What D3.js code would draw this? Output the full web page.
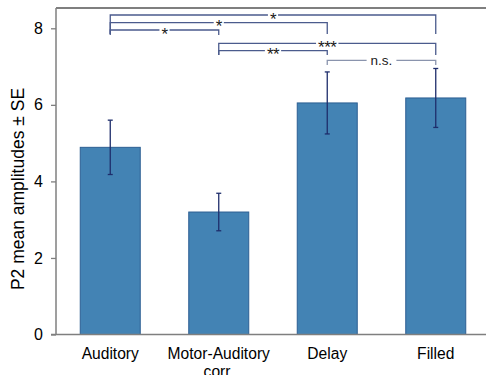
<!DOCTYPE html>
<html>
<head>
<meta charset="utf-8">
<script src="https://cdn.jsdelivr.net/npm/d3@7"></script>
<style>
  html, body { margin: 0; padding: 0; background: #fff; }
  svg { display: block; font-family: "Liberation Sans", Arial, sans-serif; }
</style>
</head>
<body>
<svg id="chart" width="486" height="375"></svg>
<script>
// Conditions and their mean P2 amplitudes with standard errors
const categories = ["Auditory", "Motor-Auditory corr.", "Delay", "Filled"];
const labelLines = [["Auditory"], ["Motor-Auditory", "corr."], ["Delay"], ["Filled"]];
const means = [4.89, 3.20, 6.05, 6.18];
const errors = [0.71, 0.49, 0.81, 0.77];
const yTicks = [0, 2, 4, 6, 8];

// Pairwise comparisons: [from index, to index, significance]
const compFrom = [0, 0, 0, 1, 1, 2];
const compTo = [3, 2, 1, 3, 2, 3];
const compSig = ["*", "*", "*", "***", "**", "n.s."];

const svg = d3.select("#chart");
const W = 486, H = 375;
const margin = { top: 8, right: -4, bottom: 40.5, left: 56 };
const plotRight = W - margin.right;
const plotBottom = H - margin.bottom;

const x = d3.scaleBand()
  .domain(categories)
  .range([margin.left, plotRight])
  .paddingInner(0.447)
  .paddingOuter(0.2235);

const y = d3.scaleLinear()
  .domain([0, 8])
  .range([plotBottom, 28.3]);

const axisGray = "#7f7f7f";
const barFill = "#4383b4";
const barStroke = "#2d5f93";
const errColor = "#1e2d6b";
const bracketColor = "#4b5b8d";

// Frame: top rule
svg.append("line")
  .attr("x1", margin.left).attr("x2", W)
  .attr("y1", margin.top).attr("y2", margin.top)
  .attr("stroke", axisGray).attr("stroke-width", 2);

// Y axis
const yAxis = d3.axisLeft(y).tickValues(yTicks).tickSize(5).tickPadding(8).tickFormat(d3.format("d"));
const gy = svg.append("g").attr("transform", `translate(${margin.left},0)`).call(yAxis);
gy.select(".domain").attr("stroke", axisGray).attr("stroke-width", 1.5)
  .attr("d", `M0,${margin.top}V${plotBottom}`);
gy.selectAll(".tick line").attr("stroke", axisGray).attr("stroke-width", 1.3);
gy.selectAll(".tick text").attr("fill", "#000").style("font-size", "16px")
  .style("font-family", "'Liberation Sans', Arial, sans-serif");

// Y title
svg.append("text")
  .attr("transform", `translate(24,${189}) rotate(-90)`)
  .attr("text-anchor", "middle")
  .style("font-size", "17.5px")
  .attr("fill", "#000")
  .text("P2 mean amplitudes \u00b1 SE");

// Bars
svg.append("g").selectAll("rect")
  .data(categories)
  .join("rect")
  .attr("x", d => x(d))
  .attr("width", x.bandwidth())
  .attr("y", (d, i) => y(means[i]))
  .attr("height", (d, i) => y(0) - y(means[i]))
  .attr("fill", barFill)
  .attr("stroke", barStroke)
  .attr("stroke-width", 1);

// Baseline (x axis)
svg.append("line")
  .attr("x1", margin.left - 5).attr("x2", W)
  .attr("y1", plotBottom).attr("y2", plotBottom)
  .attr("stroke", axisGray).attr("stroke-width", 1.5);

// Error bars
const cx = i => x(categories[i]) + x.bandwidth() / 2;
const eg = svg.append("g").attr("stroke", errColor).attr("stroke-width", 1.3);
means.forEach((m, i) => {
  const top = y(m + errors[i]), bot = y(m - errors[i]);
  eg.append("line").attr("x1", cx(i)).attr("x2", cx(i)).attr("y1", top).attr("y2", bot);
  eg.append("line").attr("x1", cx(i) - 2.5).attr("x2", cx(i) + 2.5).attr("y1", top).attr("y2", top);
  eg.append("line").attr("x1", cx(i) - 2.5).attr("x2", cx(i) + 2.5).attr("y1", bot).attr("y2", bot);
});

// X labels (second line of the long label runs off the bottom edge)
const xl = svg.append("g");
labelLines.forEach((lines, i) => {
  const t = xl.append("text")
    .attr("x", cx(i)).attr("y", 359)
    .attr("text-anchor", "middle")
    .style("font-size", "15.6px")
    .attr("fill", "#000");
  lines.forEach((ln, k) => {
    t.append("tspan").attr("x", cx(i)).attr("dy", k === 0 ? 0 : 18).text(ln);
  });
});

// Significance brackets: bar height (px) and end-drop bottom (px) per comparison
const bracketY = [15, 22.7, 30, 43.3, 50.7, 60.3];
const bracketEnd = [34, 34, 35, 55, 55, 65];
const bg = svg.append("g");
compSig.forEach((s, k) => {
  const x1 = cx(compFrom[k]), x2 = cx(compTo[k]);
  const yb = bracketY[k], ye = bracketEnd[k];
  const isNs = s === "n.s.";
  const fs = isNs ? 13.5 : 17;
  const mid = (x1 + x2) / 2;
  // measure label to leave a gap in the rule
  const label = bg.append("text")
    .attr("x", mid)
    .attr("y", isNs ? yb + 4.8 : yb + 9.6)
    .attr("text-anchor", "middle")
    .style("font-size", fs + "px")
    .attr("fill", "#1a1a1a")
    .attr("letter-spacing", isNs ? 0 : -0.5)
    .text(s);
  const w = label.node().getComputedTextLength();
  const gap = w / 2 + (isNs ? 4 : 2);
  const path = `M${x1},${ye}V${yb}H${mid - gap}M${mid + gap},${yb}H${x2}V${ye}`;
  bg.insert("path", "text")
    .attr("d", path)
    .attr("fill", "none")
    .attr("stroke", isNs ? "#8a94ad" : bracketColor)
    .attr("stroke-width", 1.3);
});
</script>
</body>
</html>
